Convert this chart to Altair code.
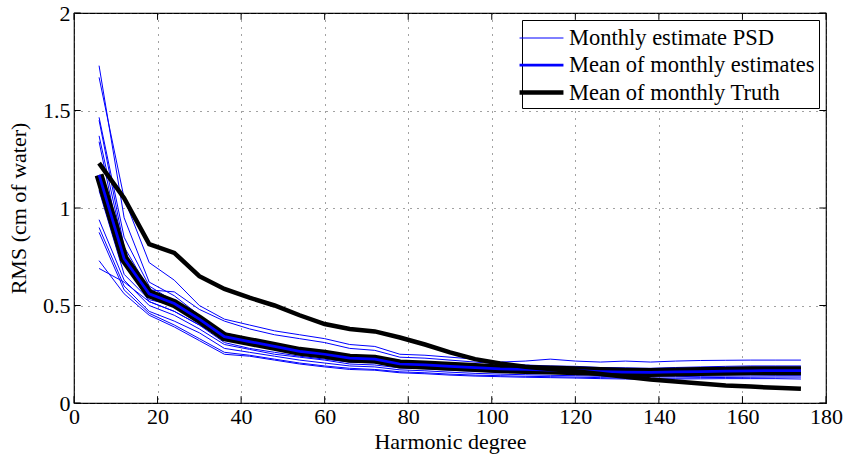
import altair as alt
import pandas as pd

degree = [6, 12, 18, 24, 30, 36, 42, 48, 54, 60, 66, 72, 78, 84, 90, 96, 102,
          108, 114, 120, 126, 132, 138, 144, 150, 156, 162, 168, 174]

m01 = [1.73, 0.95, 0.62, 0.55, 0.45, 0.34, 0.31, 0.28, 0.26, 0.24, 0.22, 0.21, 0.19, 0.185, 0.18, 0.175, 0.17, 0.168, 0.165, 0.163, 0.16, 0.158, 0.157, 0.158, 0.16, 0.161, 0.162, 0.163, 0.163]
m02 = [1.67, 1.05, 0.72, 0.63, 0.50, 0.43, 0.40, 0.37, 0.35, 0.33, 0.30, 0.29, 0.25, 0.245, 0.235, 0.225, 0.21, 0.215, 0.225, 0.215, 0.21, 0.215, 0.21, 0.215, 0.218, 0.219, 0.22, 0.22, 0.22]
m03 = [1.465, 0.85, 0.60, 0.52, 0.44, 0.36, 0.33, 0.30, 0.28, 0.26, 0.24, 0.235, 0.21, 0.205, 0.195, 0.19, 0.185, 0.18, 0.178, 0.175, 0.17, 0.168, 0.167, 0.17, 0.172, 0.175, 0.177, 0.178, 0.178]
m04 = [1.45, 0.80, 0.58, 0.57, 0.48, 0.42, 0.38, 0.35, 0.33, 0.31, 0.28, 0.27, 0.235, 0.23, 0.22, 0.21, 0.20, 0.195, 0.19, 0.188, 0.182, 0.18, 0.178, 0.182, 0.185, 0.188, 0.19, 0.19, 0.19]
m05 = [1.37, 0.78, 0.55, 0.50, 0.42, 0.33, 0.30, 0.28, 0.255, 0.24, 0.22, 0.215, 0.195, 0.19, 0.18, 0.175, 0.168, 0.165, 0.162, 0.16, 0.155, 0.152, 0.15, 0.152, 0.155, 0.157, 0.158, 0.16, 0.16]
m06 = [1.34, 0.72, 0.52, 0.47, 0.40, 0.31, 0.28, 0.26, 0.24, 0.225, 0.21, 0.205, 0.185, 0.18, 0.172, 0.168, 0.162, 0.158, 0.155, 0.152, 0.148, 0.145, 0.145, 0.147, 0.15, 0.152, 0.153, 0.154, 0.155]
m07 = [1.09, 0.66, 0.53, 0.50, 0.43, 0.35, 0.32, 0.30, 0.28, 0.265, 0.245, 0.24, 0.215, 0.21, 0.2, 0.195, 0.19, 0.188, 0.186, 0.184, 0.18, 0.178, 0.176, 0.178, 0.18, 0.182, 0.183, 0.184, 0.184]
m08 = [0.94, 0.63, 0.50, 0.45, 0.38, 0.30, 0.275, 0.25, 0.235, 0.22, 0.2, 0.195, 0.18, 0.175, 0.168, 0.163, 0.158, 0.155, 0.152, 0.15, 0.147, 0.145, 0.143, 0.145, 0.147, 0.148, 0.15, 0.15, 0.15]
m09 = [0.90, 0.60, 0.47, 0.42, 0.36, 0.28, 0.26, 0.24, 0.22, 0.205, 0.19, 0.185, 0.17, 0.165, 0.158, 0.152, 0.148, 0.145, 0.142, 0.14, 0.137, 0.135, 0.134, 0.135, 0.137, 0.138, 0.139, 0.14, 0.14]
m10 = [0.875, 0.58, 0.46, 0.40, 0.33, 0.26, 0.245, 0.225, 0.205, 0.19, 0.178, 0.172, 0.16, 0.155, 0.148, 0.143, 0.14, 0.137, 0.135, 0.133, 0.13, 0.128, 0.127, 0.128, 0.13, 0.131, 0.132, 0.133, 0.133]
m11 = [0.73, 0.56, 0.45, 0.39, 0.32, 0.25, 0.24, 0.22, 0.2, 0.185, 0.172, 0.168, 0.155, 0.15, 0.143, 0.138, 0.135, 0.132, 0.13, 0.128, 0.125, 0.123, 0.122, 0.123, 0.124, 0.125, 0.125, 0.125, 0.123]
m12 = [0.69, 0.62, 0.52, 0.47, 0.40, 0.33, 0.31, 0.29, 0.27, 0.25, 0.23, 0.225, 0.2, 0.195, 0.186, 0.18, 0.175, 0.172, 0.17, 0.168, 0.165, 0.163, 0.162, 0.164, 0.166, 0.168, 0.17, 0.17, 0.17]

mean_est = [1.17, 0.74, 0.56, 0.51, 0.43, 0.34, 0.315, 0.29, 0.265, 0.25, 0.23, 0.225, 0.20, 0.195, 0.188, 0.182, 0.175, 0.172, 0.169, 0.166, 0.161, 0.158, 0.157, 0.159, 0.161, 0.163, 0.165, 0.166, 0.166]
mean_truth = [1.23, 1.05, 0.815, 0.77, 0.65, 0.585, 0.54, 0.50, 0.45, 0.405, 0.38, 0.367, 0.336, 0.30, 0.26, 0.225, 0.203, 0.186, 0.174, 0.163, 0.149, 0.135, 0.121, 0.11, 0.10, 0.09, 0.084, 0.078, 0.073]

x_ticks = [0, 20, 40, 60, 80, 100, 120, 140, 160, 180]
y_ticks = [0, 0.5, 1, 1.5, 2]

names = ["Monthly estimate PSD", "Mean of monthly estimates", "Mean of monthly Truth"]

monthly = [m01, m02, m03, m04, m05, m06, m07, m08, m09, m10, m11, m12]
rows = []
for i, s in enumerate(monthly):
    for d, v in zip(degree, s):
        rows.append({"x": d, "y": v, "series": f"m{i+1:02d}", "kind": names[0]})
df_month = pd.DataFrame(rows)
df_mean = pd.DataFrame({"x": degree, "y": mean_est, "series": "mean", "kind": names[1]})
df_truth = pd.DataFrame({"x": degree, "y": mean_truth, "series": "truth", "kind": names[2]})

FONT = "Liberation Serif"

xs = alt.Scale(domain=[0, 180], nice=False, zero=False)
ys = alt.Scale(domain=[0, 2], nice=False, zero=False)

X = alt.X("x:Q", scale=xs, axis=alt.Axis(values=x_ticks, title="Harmonic degree", format="d",
                                          labelPadding=3, titlePadding=4, labelOverlap=False,
                                          labelFlush=False))
Y = alt.Y("y:Q", scale=ys, axis=alt.Axis(values=y_ticks, title="RMS (cm of water)", format="~g",
                                          labelPadding=4, titlePadding=12, labelOverlap=False,
                                          labelFlush=False))

color = alt.Color("kind:N", scale=alt.Scale(domain=names, range=["#0000ff", "#0000ff", "#000000"]),
                  legend=alt.Legend(title=None))
sw = alt.StrokeWidth("kind:N", scale=alt.Scale(domain=names, range=[1, 4.5, 6.5]),
                     legend=alt.Legend(title=None))

l_month = alt.Chart(df_month).mark_line().encode(x=X, y=Y, color=color, strokeWidth=sw, detail="series:N")
l_outline = alt.Chart(df_mean).mark_line(color="black", strokeWidth=9).encode(x=X, y=Y)
l_mean = alt.Chart(df_mean).mark_line().encode(x=X, y=Y, color=color, strokeWidth=sw)
l_truth = alt.Chart(df_truth).mark_line().encode(x=X, y=Y, color=color, strokeWidth=sw)

# inward tick marks (MATLAB style) on all four sides
tx = pd.DataFrame({"x": x_ticks})
ty = pd.DataFrame({"y": y_ticks})
tick_b = alt.Chart(tx).mark_rule(color="black").encode(x=alt.X("x:Q", scale=xs), y=alt.datum(0), y2=alt.datum(0.035))
tick_t = alt.Chart(tx).mark_rule(color="black").encode(x=alt.X("x:Q", scale=xs), y=alt.datum(2), y2=alt.datum(1.965))
tick_l = alt.Chart(ty).mark_rule(color="black").encode(y=alt.Y("y:Q", scale=ys), x=alt.datum(0), x2=alt.datum(1.6))
tick_r = alt.Chart(ty).mark_rule(color="black").encode(y=alt.Y("y:Q", scale=ys), x=alt.datum(180), x2=alt.datum(178.4))

chart = alt.layer(l_month, l_outline, l_mean, l_truth, tick_b, tick_t, tick_l, tick_r).properties(
    width=752, height=390,
    autosize=alt.AutoSizeParams(type="none"),
    padding={"left": 74, "top": 13, "right": 18, "bottom": 54},
    background="white",
).configure(font=FONT).configure_view(
    stroke="black", strokeWidth=1.2
).configure_axis(
    labelFont=FONT, titleFont=FONT, labelFontSize=22, titleFontSize=22,
    labelColor="black", titleColor="black", titleFontWeight="normal",
    grid=True, gridColor="#444444", gridDash=[1, 6], gridWidth=1,
    domain=False, ticks=False,
).configure_legend(
    orient="top-right", offset=7, labelFont=FONT, labelFontSize=22.5, labelColor="black",
    strokeColor="black", fillColor="white", padding=4, rowPadding=0,
    symbolType="M-1.66,0H1.66", symbolSize=700, labelLimit=400, labelOffset=12,
    cornerRadius=0,
).configure_line(strokeCap="butt", strokeJoin="miter")

chart.save("out.html", embed_options={"renderer": "svg", "actions": False})
